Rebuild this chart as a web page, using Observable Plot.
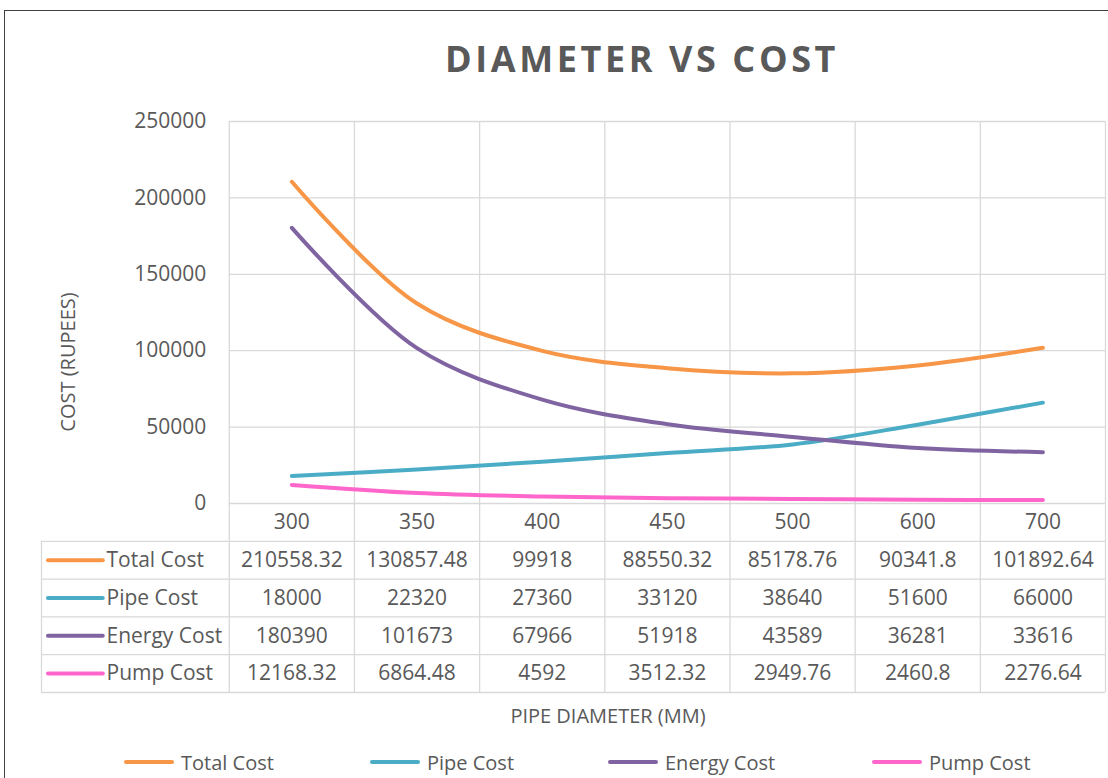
<!DOCTYPE html>
<html>
<head>
<meta charset="utf-8">
<script src="https://cdn.jsdelivr.net/npm/d3@7"></script>
<script src="https://cdn.jsdelivr.net/npm/@observablehq/plot@0.6"></script>
<style>
  html, body { margin: 0; padding: 0; background: #fff; }
  #wrap { position: relative; width: 1108px; height: 778px; overflow: hidden; font-family: "Open Sans", sans-serif; color: #595959; }
  #frame { position: absolute; left: 4px; top: 10px; width: 1200px; height: 900px; border-left: 1px solid #404040; border-top: 1px solid #404040; }
  #title { position: absolute; left: 342px; top: 34px; width: 600px; text-align: center; font-size: 36px; font-weight: bold; letter-spacing: 3.6px; line-height: 50px; }
  #ylabel { position: absolute; left: 67px; top: 362px; transform: translate(-50%, -50%) rotate(-90deg); font-size: 20px; white-space: nowrap; }
  #xlabel { position: absolute; left: 608px; top: 715px; transform: translate(-50%, -50%); font-size: 20px; white-space: nowrap; }
  .plot { position: absolute; left: 0; }
  #legend { position: absolute; left: 0; top: 748px; width: 1108px; height: 28px; font-size: 20px; }
  .item { position: absolute; top: 0; display: flex; align-items: center; height: 28px; }
  .key { width: 50px; height: 4px; border-radius: 2px; margin-right: 7px; }
</style>
</head>
<body>
<div id="wrap">
  <div id="frame"></div>
  <div id="title">DIAMETER VS COST</div>
  <div id="ylabel">COST (RUPEES)</div>
  <div id="xlabel">PIPE DIAMETER (MM)</div>
  <div id="legend"></div>
</div>
<script>
// ---- data ----
const categories = ["300", "350", "400", "450", "500", "600", "700"];
const seriesNames = ["Total Cost", "Pipe Cost", "Energy Cost", "Pump Cost"];
const totalCost  = [210558.32, 130857.48, 99918, 88550.32, 85178.76, 90341.8, 101892.64];
const pipeCost   = [18000, 22320, 27360, 33120, 38640, 51600, 66000];
const energyCost = [180390, 101673, 67966, 51918, 43589, 36281, 33616];
const pumpCost   = [12168.32, 6864.48, 4592, 3512.32, 2949.76, 2460.8, 2276.64];
const seriesColors = ["#F79646", "#4BACC6", "#8064A2", "#FF66CC"];
const yTicks = [0, 50000, 100000, 150000, 200000, 250000];

const seriesValues = [totalCost, pipeCost, energyCost, pumpCost];
const long = [];
seriesNames.forEach((s, k) => seriesValues[k].forEach((v, i) => long.push({series: s, i, value: v})));

const textColor = "#595959";
const gridColor = "#d9d9d9";
const xScale = {domain: [-2, 6.5], range: [41, 1105]};
const colEdges = d3.range(categories.length + 1).map(i => i - 0.5);
const colorScale = {domain: seriesNames, range: seriesColors};
const font = "'Open Sans', sans-serif";

// ---- main chart ----
const chart = Plot.plot({
  width: 1108, height: 540,
  marginTop: 121, marginBottom: 37, marginLeft: 41, marginRight: 3,
  x: {...xScale, axis: null},
  y: {domain: [0, 250000], axis: null},
  color: colorScale,
  style: {fontFamily: font, color: textColor, background: "transparent", overflow: "visible"},
  marks: [
    Plot.ruleY(yTicks, {y: d => d, x1: -0.5, x2: 6.5, stroke: gridColor, strokeWidth: 1.3}),
    Plot.ruleX(colEdges, {x: d => d, y1: 0, y2: 250000, stroke: gridColor, strokeWidth: 1.3}),
    Plot.text(yTicks, {x: -0.5, y: d => d, text: d => String(d), textAnchor: "end", dx: -23, fontSize: 21, fill: textColor}),
    Plot.line(long, {x: "i", y: "value", z: "series", stroke: "series", curve: "catmull-rom", strokeWidth: 4, strokeLinecap: "round", strokeLinejoin: "round"})
  ]
});
chart.classList.add("plot");
chart.style.top = "0px";
document.getElementById("wrap").appendChild(chart);

// ---- data table ----
const rowEdges = d3.range(seriesNames.length + 2);          // 0..5
const cells = [];
seriesNames.forEach((s, k) => seriesValues[k].forEach((v, i) => cells.push({i, row: k + 1.5, text: String(v)})));
const headers = categories.map((c, i) => ({i, row: 0.5, text: c}));
const rowLabels = seriesNames.map((s, k) => ({series: s, row: k + 1.5}));

const table = Plot.plot({
  width: 1108, height: 195,
  marginTop: 0, marginBottom: 6, marginLeft: 41, marginRight: 3,
  x: {...xScale, axis: null},
  y: {domain: [0, 5], range: [0, 189], axis: null},
  color: colorScale,
  style: {fontFamily: font, color: textColor, background: "transparent", overflow: "visible"},
  marks: [
    Plot.ruleY(rowEdges.slice(1), {y: d => d, x1: -2, x2: 6.5, stroke: gridColor, strokeWidth: 1.3}),
    Plot.ruleX(colEdges, {x: d => d, y1: 0, y2: 5, stroke: gridColor, strokeWidth: 1.3}),
    Plot.ruleX([-2], {x: d => d, y1: 1, y2: 5, stroke: gridColor, strokeWidth: 1.3}),
    Plot.text(headers, {x: "i", y: "row", text: "text", fontSize: 21, fill: textColor}),
    Plot.text(cells, {x: "i", y: "row", text: "text", fontSize: 21, fill: textColor}),
    Plot.ruleY(rowLabels, {y: "row", x1: -2, x2: -0.5, insetLeft: 7, insetRight: 126, stroke: "series", strokeWidth: 4, strokeLinecap: "round"}),
    Plot.text(rowLabels, {x: -2, y: "row", text: "series", textAnchor: "start", dx: 65, fontSize: 21, fill: textColor})
  ]
});
table.classList.add("plot");
table.style.top = "503px";
document.getElementById("wrap").appendChild(table);

// ---- legend ----
const legendLeft = [124, 370, 608, 872];
const legend = document.getElementById("legend");
seriesNames.forEach((s, k) => {
  const item = document.createElement("div");
  item.className = "item";
  item.style.left = legendLeft[k] + "px";
  const key = document.createElement("div");
  key.className = "key";
  key.style.background = seriesColors[k];
  const label = document.createElement("span");
  label.textContent = s;
  item.appendChild(key);
  item.appendChild(label);
  legend.appendChild(item);
});
</script>
</body>
</html>
